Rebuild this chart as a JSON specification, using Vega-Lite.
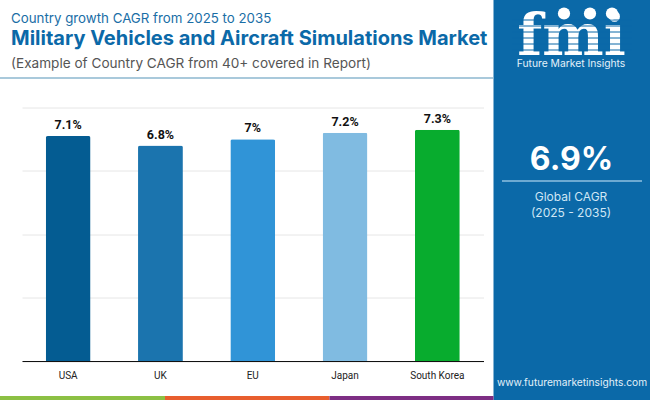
{
  "$schema": "https://vega.github.io/schema/vega-lite/v6.json",
  "width": 461.5,
  "height": 253.5,
  "autosize": "none",
  "padding": {"left": 22, "top": 107.5, "right": 166.5, "bottom": 39},
  "background": "white",
  "config": {"view": {"stroke": null}, "font": "Roboto"},
  "data": {
    "values": [
      {"country": "USA", "cagr": 0.071},
      {"country": "UK", "cagr": 0.068},
      {"country": "EU", "cagr": 0.07},
      {"country": "Japan", "cagr": 0.072},
      {"country": "South Korea", "cagr": 0.073}
    ]
  },
  "encoding": {
    "x": {
      "field": "country",
      "type": "nominal",
      "sort": null,
      "title": null,
      "scale": {"paddingInner": 0.514, "paddingOuter": 0.257},
      "axis": {"labelAngle": 0, "labelFontSize": 10, "labelColor": "#222222", "labelFont": "Roboto", "labelPadding": 9, "ticks": false, "domainColor": "#111111", "domainWidth": 1.2}
    },
    "y": {
      "field": "cagr",
      "type": "quantitative",
      "title": null,
      "scale": {"domain": [0, 0.08]},
      "axis": {"values": [0, 0.02, 0.04, 0.06, 0.08], "labels": false, "ticks": false, "domain": false, "gridColor": "#e6e6e6", "gridWidth": 1}
    }
  },
  "layer": [
    {
      "mark": {"type": "bar", "cornerRadiusTopLeft": 2, "cornerRadiusTopRight": 2},
      "encoding": {
        "color": {
          "field": "country",
          "type": "nominal",
          "legend": null,
          "scale": {
            "domain": ["USA", "UK", "EU", "Japan", "South Korea"],
            "range": ["#045c92", "#1b74ae", "#3094d7", "#80bbe1", "#08ac2e"]
          }
        }
      }
    },
    {
      "mark": {"type": "text", "baseline": "bottom", "dy": -4, "fontSize": 12.5, "fontWeight": "bold", "font": "Roboto", "color": "#111111"},
      "encoding": {"text": {"field": "cagr", "type": "quantitative", "format": ".1~%"}}
    },
    {
      "data": {"values": [{}]},
      "mark": {"type": "rect", "color": "#0b69a8", "clip": false},
      "encoding": {"x": {"value": 471.5}, "x2": {"value": 628}, "y": {"value": -107.5}, "y2": {"value": 292.5}}
    },
    {
      "data": {"values": [{}]},
      "mark": {"type": "rule", "color": "#8db7cf", "strokeWidth": 1.5},
      "encoding": {"x": {"value": -22}, "x2": {"value": 471.5}, "y": {"value": -29.5}}
    },
    {
      "data": {"values": [{}]},
      "mark": {"type": "rect", "color": "#8cc044"},
      "encoding": {"x": {"value": -22}, "x2": {"value": 143}, "y": {"value": 288.5}, "y2": {"value": 292.5}}
    },
    {
      "data": {"values": [{}]},
      "mark": {"type": "rect", "color": "#e85e2e"},
      "encoding": {"x": {"value": 143}, "x2": {"value": 307.5}, "y": {"value": 288.5}, "y2": {"value": 292.5}}
    },
    {
      "data": {"values": [{}]},
      "mark": {"type": "rect", "color": "#7e2e84"},
      "encoding": {"x": {"value": 307.5}, "x2": {"value": 471.5}, "y": {"value": 288.5}, "y2": {"value": 292.5}}
    },
    {
      "data": {"values": [{"t": "Country growth CAGR from 2025 to 2035"}]},
      "mark": {"type": "text", "align": "left", "baseline": "alphabetic", "font": "Inter", "fontSize": 13.3, "color": "#1a6ea6"},
      "encoding": {"text": {"field": "t"}, "x": {"value": -11}, "y": {"value": -85}}
    },
    {
      "data": {"values": [{"t": "Military Vehicles and Aircraft Simulations Market"}]},
      "mark": {"type": "text", "align": "left", "baseline": "alphabetic", "font": "Inter", "fontSize": 20, "fontWeight": "bold", "color": "#0b69a8"},
      "encoding": {"text": {"field": "t"}, "x": {"value": -11}, "y": {"value": -62.5}}
    },
    {
      "data": {"values": [{"t": "(Example of Country CAGR from 40+ covered in Report)"}]},
      "mark": {"type": "text", "align": "left", "baseline": "alphabetic", "font": "Inter", "fontSize": 13.6, "color": "#555555"},
      "encoding": {"text": {"field": "t"}, "x": {"value": -11}, "y": {"value": -39.5}}
    },
    {
      "data": {"values": [{"t": "fmi"}]},
      "mark": {"type": "text", "align": "center", "baseline": "alphabetic", "font": "DejaVu Serif", "fontSize": 58, "fontWeight": "bold", "color": "white"},
      "encoding": {"text": {"field": "t"}, "x": {"value": 549.5}, "y": {"value": -52.5}}
    },
    {
      "data": {"values": [{}]},
      "mark": {"type": "rule", "color": "#0b69a8", "strokeWidth": 1},
      "encoding": {"x": {"value": 490}, "x2": {"value": 610}, "y": {"value": -87.5}}
    },
    {
      "data": {"values": [{}]},
      "mark": {"type": "rule", "color": "#0b69a8", "strokeWidth": 1},
      "encoding": {"x": {"value": 490}, "x2": {"value": 610}, "y": {"value": -81.5}}
    },
    {
      "data": {"values": [{}]},
      "mark": {"type": "rule", "color": "#0b69a8", "strokeWidth": 1},
      "encoding": {"x": {"value": 490}, "x2": {"value": 610}, "y": {"value": -75.5}}
    },
    {
      "data": {"values": [{}]},
      "mark": {"type": "rule", "color": "#0b69a8", "strokeWidth": 1},
      "encoding": {"x": {"value": 490}, "x2": {"value": 610}, "y": {"value": -69.5}}
    },
    {
      "data": {"values": [{}]},
      "mark": {"type": "rule", "color": "#0b69a8", "strokeWidth": 1},
      "encoding": {"x": {"value": 490}, "x2": {"value": 610}, "y": {"value": -63.5}}
    },
    {
      "data": {"values": [{}]},
      "mark": {"type": "rule", "color": "#0b69a8", "strokeWidth": 1},
      "encoding": {"x": {"value": 490}, "x2": {"value": 610}, "y": {"value": -57.5}}
    },
    {
      "data": {"values": [{}]},
      "mark": {"type": "point", "shape": "circle", "filled": true, "opacity": 1, "size": 150, "color": "white"},
      "encoding": {"x": {"value": 542}, "y": {"value": -94}}
    },
    {
      "data": {"values": [{}]},
      "mark": {"type": "point", "shape": "circle", "filled": true, "opacity": 1, "size": 150, "color": "white"},
      "encoding": {"x": {"value": 568}, "y": {"value": -94}}
    },
    {
      "data": {"values": [{}]},
      "mark": {"type": "point", "shape": "circle", "filled": true, "opacity": 1, "size": 150, "color": "white"},
      "encoding": {"x": {"value": 590}, "y": {"value": -94}}
    },
    {
      "data": {"values": [{"t": "Future Market Insights"}]},
      "mark": {"type": "text", "align": "center", "baseline": "middle", "font": "Inter", "fontSize": 10.3, "color": "#e3f1fa"},
      "encoding": {"text": {"field": "t"}, "x": {"value": 549}, "y": {"value": -43.5}}
    },
    {
      "data": {"values": [{"t": "6.9%"}]},
      "mark": {"type": "text", "align": "center", "baseline": "middle", "font": "Inter", "fontSize": 32, "fontWeight": "bold", "color": "white"},
      "encoding": {"text": {"field": "t"}, "x": {"value": 549.5}, "y": {"value": 52.5}}
    },
    {
      "data": {"values": [{}]},
      "mark": {"type": "rule", "color": "#8fc0e0", "strokeWidth": 1.5},
      "encoding": {"x": {"value": 480}, "x2": {"value": 620}, "y": {"value": 73.5}}
    },
    {
      "data": {"values": [{"t": "Global CAGR"}]},
      "mark": {"type": "text", "align": "center", "baseline": "middle", "font": "Inter", "fontSize": 12, "color": "#cfe6f5"},
      "encoding": {"text": {"field": "t"}, "x": {"value": 549}, "y": {"value": 89.5}}
    },
    {
      "data": {"values": [{"t": "(2025 - 2035)"}]},
      "mark": {"type": "text", "align": "center", "baseline": "middle", "font": "Inter", "fontSize": 12, "color": "#cfe6f5"},
      "encoding": {"text": {"field": "t"}, "x": {"value": 549}, "y": {"value": 105.5}}
    },
    {
      "data": {"values": [{"t": "www.futuremarketinsights.com"}]},
      "mark": {"type": "text", "align": "center", "baseline": "middle", "font": "Inter", "fontSize": 10.2, "color": "#e3f1fa"},
      "encoding": {"text": {"field": "t"}, "x": {"value": 550}, "y": {"value": 275.5}}
    }
  ]
}
